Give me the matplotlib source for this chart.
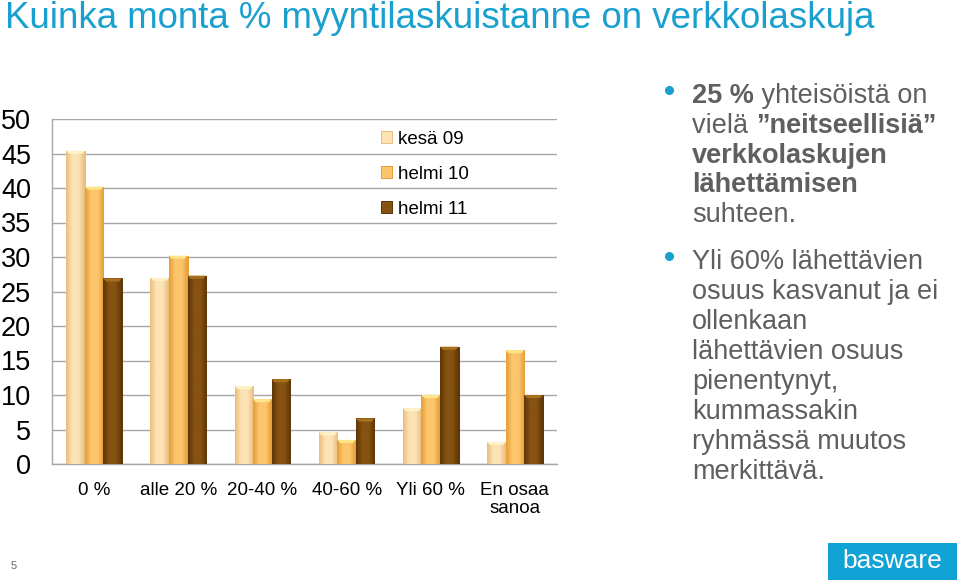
import numpy as np
import matplotlib
matplotlib.use('Agg')
import matplotlib.pyplot as plt
from matplotlib.patches import Rectangle, Polygon
from matplotlib.lines import Line2D
from matplotlib.colors import LinearSegmentedColormap

plt.rcParams['font.family'] = ['Liberation Sans', 'DejaVu Sans']

categories = ['0 %', 'alle 20 %', '20-40 %', '40-60 %', 'Yli 60 %', 'En osaa\nsanoa']
series = ['kesä 09', 'helmi 10', 'helmi 11']
kesa09 = [45.4, 27.0, 11.3, 4.6, 8.1, 3.2]
helmi10 = [40.2, 30.2, 9.4, 3.5, 10.0, 16.5]
helmi11 = [26.9, 27.3, 12.3, 6.6, 17.0, 10.0]
yticks = [0, 5, 10, 15, 20, 25, 30, 35, 40, 45, 50]

title = 'Kuinka monta % myyntilaskuistanne on verkkolaskuja'
blue = '#1AA0CF'
grey_txt = '#5F5F5F'

# (dark edge, light middle, cap) per series
palettes = [('#E9BE7C', '#FDE3B6', '#FFF2C8'),
            ('#E59E36', '#FDC66D', '#FFE58A'),
            ('#5C3506', '#875312', '#A8701E')]

fig = plt.figure(figsize=(9.6, 5.86), dpi=100)
ax = fig.add_axes([52/960, 1-464/586, 505/960, 345/586])

x = np.arange(len(categories))
w = 0.22
offsets = [-w, 0, w]
data = [kesa09, helmi10, helmi11]

for i, vals in enumerate(data):
    edge, mid, cap = palettes[i]
    bars = ax.bar(x + offsets[i], vals, w, color=mid, edgecolor=edge, linewidth=0.7,
                  label=series[i], zorder=3)
    cmap = LinearSegmentedColormap.from_list('g%d' % i, [edge, mid, mid, edge])
    grad = np.linspace(0, 1, 64).reshape(1, -1)
    for b in bars:
        x0, y0 = b.get_x(), b.get_y()
        bw, bh = b.get_width(), b.get_height()
        im = ax.imshow(grad, cmap=cmap, aspect='auto', extent=(x0, x0 + bw, y0, y0 + bh),
                       zorder=3.5, interpolation='bicubic')
        im.set_clip_path(b)
        # bevelled top
        c = 0.45
        ax.add_patch(Polygon([(x0, y0 + bh), (x0 + bw, y0 + bh),
                              (x0 + bw*0.85, y0 + bh - c), (x0 + bw*0.15, y0 + bh - c)],
                             closed=True, facecolor=cap, edgecolor='none', zorder=4))

ax.set_xlim(-0.5, len(categories) - 0.5)
ax.set_ylim(0, 50)
ax.set_yticks(yticks)
ax.set_xticks(x)
ax.set_xticklabels(categories, fontsize=13.5, linespacing=1.05)
ax.tick_params(axis='y', length=0, labelsize=19.5, pad=15)
ax.tick_params(axis='x', length=0, pad=13)
ax.yaxis.grid(True, color='#A6A6A6', linewidth=1, zorder=0)
ax.set_axisbelow(True)
for s in ['top', 'right']:
    ax.spines[s].set_visible(False)
for s in ['left', 'bottom']:
    ax.spines[s].set_color('#A6A6A6')
    ax.spines[s].set_linewidth(1)

leg = ax.legend(loc='upper left', bbox_to_anchor=(381/960, 1-131/586),
                bbox_transform=fig.transFigure, frameon=False, fontsize=13.5,
                handlelength=0.6, handleheight=0.6, handletextpad=0.3,
                labelspacing=0.95, borderpad=0, borderaxespad=0)

fig.text(5/960, 1-18/586, title, color=blue, fontsize=26.4, va='center', ha='left')

# right text block with bold pieces
renderer = fig.canvas.get_renderer()
lines1 = [[('25 %', 'bold'), (' yhteisöistä on', 'normal')],
          [('vielä ', 'normal'), ('”neitseellisiä”', 'bold')],
          [('verkkolaskujen', 'bold')],
          [('lähettämisen', 'bold')],
          [('suhteen.', 'normal')]]
lines2 = ['Yli 60% lähettävien', 'osuus kasvanut ja ei', 'ollenkaan',
          'lähettävien osuus', 'pienentynyt,', 'kummassakin',
          'ryhmässä muutos', 'merkittävä.']
tx = 692
ly = 96
for parts in lines1:
    px = tx
    for txt, wgt in parts:
        t = fig.text(px/960, 1-ly/586, txt, fontsize=19.5, fontweight=wgt,
                     color=grey_txt, va='center', ha='left')
        bb = t.get_window_extent(renderer)
        px = px + bb.width
    ly += 29.8
ly = 262
for ln in lines2:
    fig.text(tx/960, 1-ly/586, ln, fontsize=19.5, color=grey_txt, va='center', ha='left')
    ly += 30
for by in [90, 256]:
    fig.add_artist(Line2D([669/960], [1-by/586], marker='o', markersize=5.5,
                          color=blue, linestyle='none', transform=fig.transFigure))

# footer
fig.text(14/960, 1-566/586, '5', fontsize=8, color='#666666', va='center', ha='center')
fig.patches.append(Rectangle((828/960, 1-580/586), 129/960, 37/586,
                             transform=fig.transFigure, facecolor='#12A3D6', edgecolor='none'))
fig.text(892/960, 1-561/586, 'basware', fontsize=19, color='white', va='center', ha='center')

fig.savefig('out.png', dpi=100)
